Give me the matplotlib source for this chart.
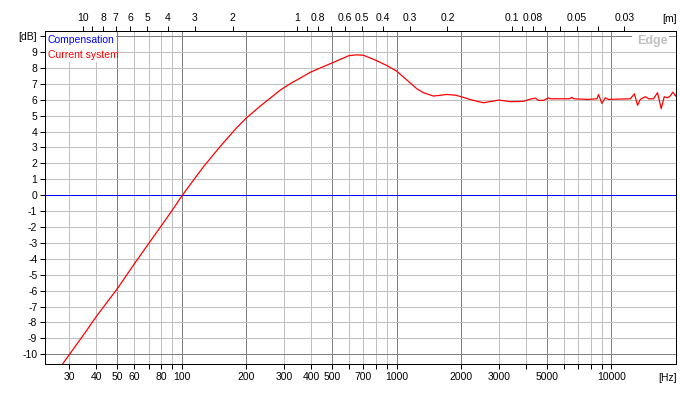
import matplotlib
matplotlib.use('Agg')
import matplotlib.pyplot as plt
from matplotlib.ticker import FixedLocator, NullLocator

plt.rcParams['font.family'] = ['Liberation Sans', 'DejaVu Sans']

# ---------------- data ----------------
freq_hz = [23, 30, 35, 40, 50, 60, 70, 80, 90, 100, 126, 150, 180, 200, 230, 258, 287,
           319, 400, 500, 600, 650, 700, 800, 900, 1000, 1040, 1157, 1243, 1334, 1485,
           1600, 1716, 1875, 2000, 2243, 2540, 2828, 3000, 3381, 3900, 4195, 4422, 4590,
           4840, 5100, 5190, 6400, 6553, 6670, 7760, 8580, 8710, 8870, 9036, 9370, 9700,
           12260, 12800, 13250, 13640, 14400, 14920, 15710, 16400, 17070, 17630,
           18250, 18780, 19340, 19900, 20000]
current_db = [-12.2, -10.0, -8.75, -7.62, -5.89, -4.33, -3.05, -1.95, -0.97, -0.05, 1.78,
              3.02, 4.24, 4.86, 5.56, 6.1, 6.6, 7.0, 7.75, 8.31, 8.77, 8.82, 8.8, 8.48,
              8.15, 7.8, 7.6, 7.06, 6.69, 6.44, 6.23, 6.28, 6.33, 6.29, 6.19, 5.98, 5.81,
              5.92, 5.98, 5.88, 5.9, 6.04, 6.1, 5.96, 5.96, 6.12, 6.06, 6.06, 6.15, 6.06,
              6.02, 6.06, 6.33, 6.06, 5.77, 6.12, 6.02, 6.06, 6.37, 5.65, 6.02, 6.19,
              6.06, 6.06, 6.44, 5.44, 6.19, 6.12, 6.23, 6.48, 6.23, 6.3]
comp_freq_hz = [20, 20000]
comp_db = [0, 0]

x_ticks_hz = [30, 40, 50, 60, 70, 80, 90, 100, 200, 300, 400, 500, 600, 700, 800, 900,
              1000, 2000, 3000, 4000, 5000, 6000, 7000, 8000, 9000, 10000]
x_labels_hz = ['30', '40', '50', '60', '', '80', '', '100', '200', '300', '400', '500',
               '', '700', '', '', '1000', '2000', '3000', '', '5000', '', '', '', '', '10000']
x_major_hz = [50, 100, 200, 500, 1000, 2000, 5000, 10000]
y_ticks_db = list(range(-10, 11))
y_labels_db = [str(v) for v in range(-10, 10)] + ['[dB]']
top_ticks_m = [10, 9, 8, 7, 6, 5, 4, 3, 2, 1, 0.9, 0.8, 0.7, 0.6, 0.5, 0.4, 0.3, 0.2,
               0.1, 0.09, 0.08, 0.07, 0.06, 0.05, 0.04, 0.03]
top_labels_m = ['10', '', '8', '7', '6', '5', '4', '3', '2', '1', '', '0.8', '', '0.6',
                '0.5', '0.4', '0.3', '0.2', '0.1', '', '0.08', '', '', '0.05', '', '0.03']
sound_speed = 345.0

# ---------------- figure ----------------
W, H = 680, 396
fig = plt.figure(figsize=(W / 100, H / 100), dpi=100)
L, R, T, B = 45, 676, 31, 364
ax = fig.add_axes([L / W, 1 - B / H, (R - L) / W, (B - T) / H])
ax.set_xscale('log')
ax.set_xlim(23.07, 20000)
ax.set_ylim(-10.61, 10.32)

LW = 0.72
light, dark = '#c0c0c0', '#808080'
for f in x_ticks_hz:
    ax.axvline(f, color=dark if f in x_major_hz else light, lw=LW, zorder=1,
               antialiased=False)
for d in y_ticks_db:
    if d == 0:
        continue
    ax.axhline(d, color=dark if d % 10 == 0 else light, lw=LW, zorder=1,
               antialiased=False)

ax.plot(comp_freq_hz, comp_db, color='#0000ff', lw=LW, zorder=3, antialiased=False)
ax.plot(freq_hz, current_db, color='#ff0000', lw=0.9, zorder=4, antialiased=True,
        solid_joinstyle='round')

for s in ax.spines.values():
    s.set_color('black')
    s.set_linewidth(LW)
    s.set_antialiased(False)
    s.set_zorder(6)

ax.xaxis.set_major_locator(FixedLocator(x_ticks_hz))
ax.xaxis.set_minor_locator(NullLocator())
ax.set_xticklabels(x_labels_hz)
ax.set_yticks(y_ticks_db)
ax.set_yticklabels(y_labels_db)
ax.tick_params(axis='both', direction='out', length=3.5, width=LW, color='black',
               labelsize=7.5, labelcolor='black', pad=2)

# top axis in metres
ax2 = ax.twiny()
ax2.set_xscale('log')
ax2.set_xlim(ax.get_xlim())
ax2.xaxis.set_major_locator(FixedLocator([sound_speed / m for m in top_ticks_m]))
ax2.xaxis.set_minor_locator(NullLocator())
ax2.set_xticklabels(top_labels_m)
ax2.tick_params(axis='x', direction='out', length=3.5, width=LW, labelsize=7.5, pad=2)
for s in ax2.spines.values():
    s.set_visible(False)

def fx(x):
    return x / W

def fy(y):
    return 1 - y / H

fig.text(fx(677), fy(378), '[Hz]', ha='right', va='center', fontsize=7.5)
fig.text(fx(677), fy(19), '[m]', ha='right', va='center', fontsize=7.5)

# legend box
ax.add_patch(plt.Rectangle((L / W, 1 - 62 / H), (116 - L) / W, (62 - T) / H,
                           transform=fig.transFigure, facecolor='white',
                           edgecolor='none', zorder=5))
fig.text(fx(47.5), fy(40), 'Compensation', color='#0000ff', ha='left', va='center',
         fontsize=7.5, zorder=7)
fig.text(fx(47.5), fy(54.5), 'Current system', color='#ff0000', ha='left', va='center',
         fontsize=7.5, zorder=7)

# Edge watermark
ax.add_patch(plt.Rectangle((632 / W, 1 - 48 / H), (669 - 632) / W, (48 - 33) / H,
                           transform=fig.transFigure, facecolor='white',
                           edgecolor='none', zorder=5))
fig.text(fx(668), fy(41), 'Edge', color='#c0c0c0', ha='right', va='center',
         fontsize=9, fontweight='bold', zorder=7)

fig.savefig('out.png', dpi=100, facecolor='white')
